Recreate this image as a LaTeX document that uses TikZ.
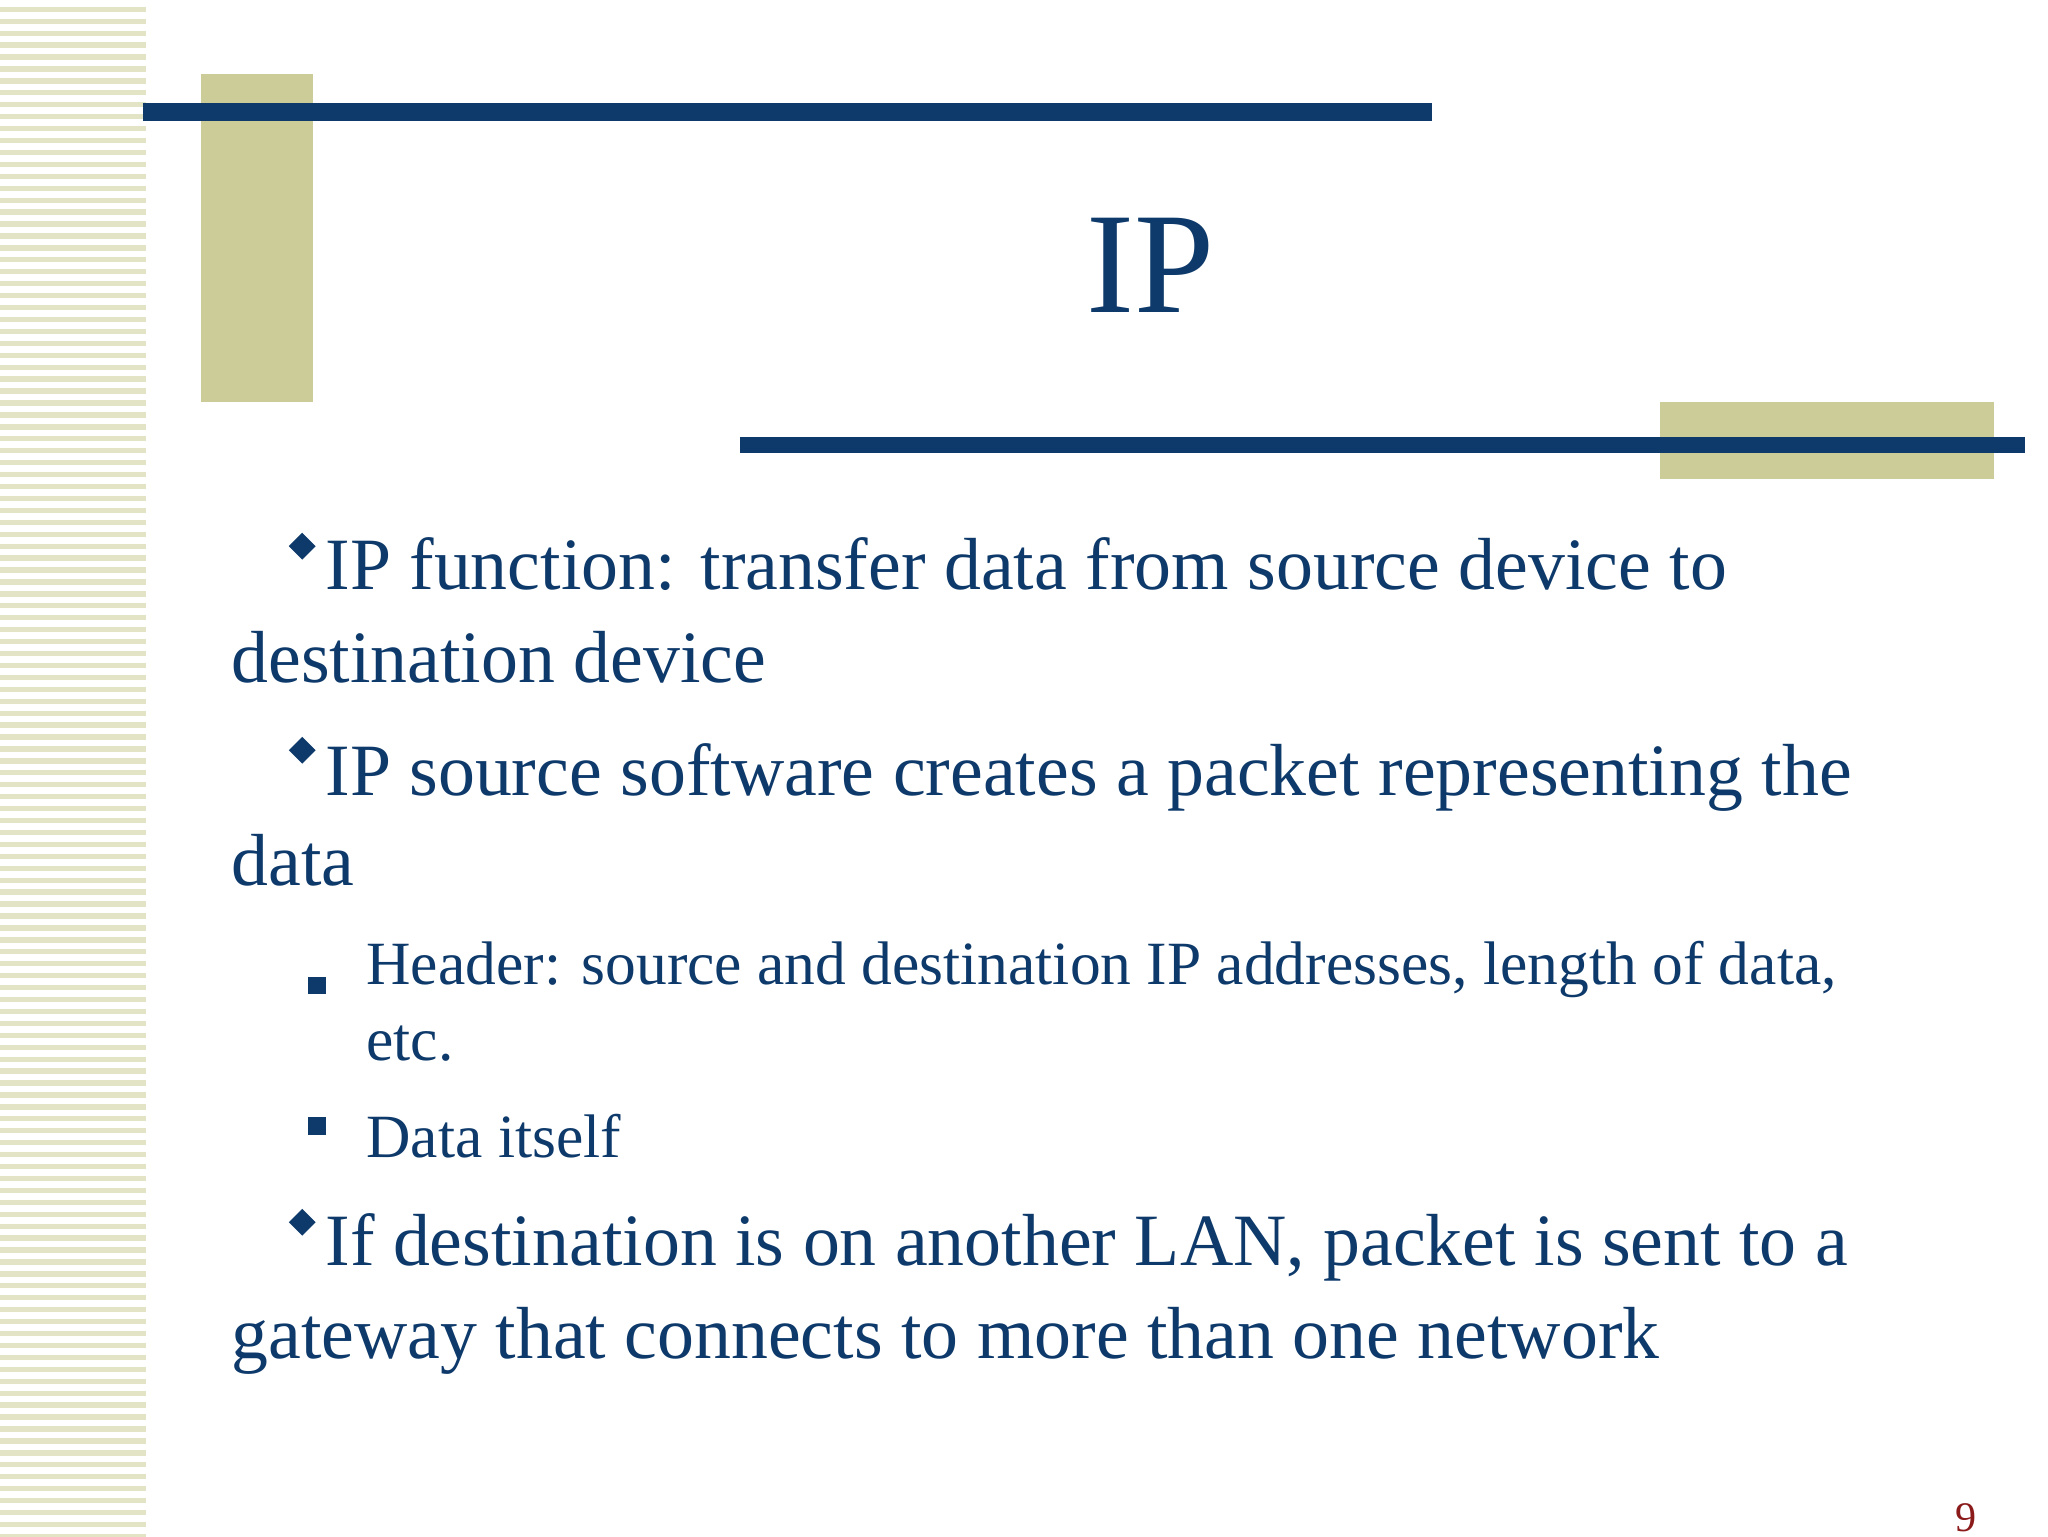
\documentclass[tikz,border=0pt]{standalone}
\usepackage{fontspec}
\setmainfont{Liberation Serif}
\definecolor{navy}{HTML}{0E3A6B}
\definecolor{beige}{HTML}{CCCC99}
\definecolor{stripe}{HTML}{E3E3C6}
\definecolor{pgred}{HTML}{8B1A1A}
\begin{document}
\begin{tikzpicture}[x=0.013256cm,y=-0.013256cm,
  body/.style={anchor=base west,inner sep=0,text=navy,font=\fontsize{21}{25}\selectfont},
  sub/.style={anchor=base west,inner sep=0,text=navy,font=\fontsize{17.5}{21}\selectfont},
  dia/.style={fill=navy,inner sep=0,minimum size=9pt,shape=rectangle,rotate=45,scale=0.6}]
\useasboundingbox (0,0) rectangle (1545,1159);
\fill[white] (0,0) rectangle (1545,1159);
\foreach \i in {0,...,128} {\fill[stripe] (0,{5+\i*9}) rectangle (110,{9+\i*9});}
\fill[beige] (152,56) rectangle (236,303);
\fill[navy] (108,78) rectangle (1080,91);
\node[text=navy,font=\fontsize{41}{48}\selectfont,inner sep=0] (title) at (868,200) {IP};
\fill[beige] (1252,303) rectangle (1504,361);
\fill[navy] (558,330) rectangle (1528,342);
\node[dia] (d1) at (228,412) {};
\node[body] (l1) at (245,445) {IP function: transfer data from source device to};
\node[body] (l2) at (174,515) {destination device};
\node[dia] (d2) at (228,566) {};
\node[body] (l3) at (245,600) {IP source software creates a packet representing the};
\node[body] (l4) at (174,668) {data};
\fill[navy] (232,737) rectangle (246,750);
\node[sub] (s1) at (276,743) {Header: source and destination IP addresses, length of data,};
\node[sub] (s1b) at (276,800) {etc.};
\fill[navy] (232,843) rectangle (246,856);
\node[sub] (s2) at (276,873) {Data itself};
\node[dia] (d3) at (228,922) {};
\node[body] (l5) at (245,955) {If destination is on another LAN, packet is sent to a};
\node[body] (l6) at (174,1025) {gateway that connects to more than one network};
\node[anchor=base,inner sep=0,text=pgred,font=\fontsize{12}{14}\selectfont] (pg) at (1483,1155) {9};
\end{tikzpicture}
\end{document}
